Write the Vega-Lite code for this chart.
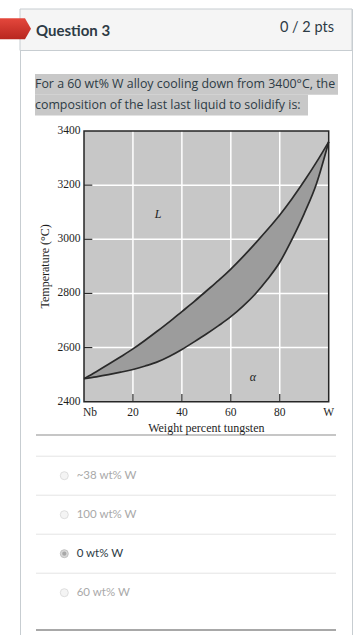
{
  "$schema": "https://vega.github.io/schema/vega-lite/v6.json",
  "width": 332,
  "height": 630,
  "padding": {"left": 20, "top": 9, "right": 12, "bottom": 0},
  "autosize": {"type": "none"},
  "background": "white",
  "config": {"view": {"stroke": "#c7cdd1", "strokeWidth": 1, "fill": "white"}},
  "datasets": {
    "curves": [
      {"w": 0, "liq": 2485, "sol": 2485},
      {"w": 5, "liq": 2511, "sol": 2492},
      {"w": 10, "liq": 2538, "sol": 2500},
      {"w": 15, "liq": 2566, "sol": 2509},
      {"w": 20, "liq": 2595, "sol": 2519},
      {"w": 25, "liq": 2627, "sol": 2532},
      {"w": 30, "liq": 2661, "sol": 2547},
      {"w": 35, "liq": 2696, "sol": 2568},
      {"w": 40, "liq": 2733, "sol": 2593},
      {"w": 45, "liq": 2770, "sol": 2621},
      {"w": 50, "liq": 2809, "sol": 2650},
      {"w": 55, "liq": 2848, "sol": 2681},
      {"w": 60, "liq": 2890, "sol": 2714},
      {"w": 65, "liq": 2936, "sol": 2753},
      {"w": 70, "liq": 2985, "sol": 2798},
      {"w": 75, "liq": 3036, "sol": 2852},
      {"w": 80, "liq": 3090, "sol": 2915},
      {"w": 85, "liq": 3150, "sol": 3000},
      {"w": 90, "liq": 3215, "sol": 3095},
      {"w": 95, "liq": 3285, "sol": 3205},
      {"w": 100, "liq": 3360, "sol": 3360}
    ],
    "xgrid": [{"w": 20}, {"w": 40}, {"w": 60}, {"w": 80}],
    "ygrid": [{"t": 2600}, {"t": 2800}, {"t": 3000}, {"t": 3200}],
    "xlabels": [
      {"w": 0, "label": "Nb"}, {"w": 20, "label": "20"}, {"w": 40, "label": "40"},
      {"w": 60, "label": "60"}, {"w": 80, "label": "80"}, {"w": 100, "label": "W"}
    ],
    "ylabels": [{"t": 2400}, {"t": 2600}, {"t": 2800}, {"t": 3000}, {"t": 3200}, {"t": 3400}],
    "frame": [{"w0": 0, "w1": 100, "t0": 2400, "t1": 3400}]
  },
  "layer": [
    {
      "layer": [
        {
          "data": {"values": [{"part": "header"}]},
          "mark": {"type": "rect", "fill": "#f5f5f5", "stroke": "#c7cdd1", "strokeWidth": 1},
          "encoding": {
            "x": {"datum": 0, "type": "quantitative", "scale": {"domain": [0, 332], "range": [0, 332], "nice": false, "zero": false}, "axis": null},
            "x2": {"datum": 332},
            "y": {"datum": 0, "type": "quantitative", "scale": {"domain": [0, 630], "range": [0, 630], "nice": false, "zero": false}, "axis": null},
            "y2": {"datum": 41.5}
          }
        },
        {
          "data": {"values": [{"part": "flag"}]},
          "mark": {
            "type": "point",
            "shape": "M-1.905,-1L0.476,-1L1.048,0L0.476,1L-1.905,1Z",
            "size": 441,
            "filled": true,
            "opacity": 1,
            "strokeWidth": 0,
            "fill": {"gradient": "linear", "x1": 0, "y1": 0, "x2": 0, "y2": 1, "stops": [{"offset": 0, "color": "#e4473c"}, {"offset": 1, "color": "#b8261f"}]}
          },
          "encoding": {
            "x": {"datum": 0, "type": "quantitative", "axis": null},
            "y": {"datum": 19.8, "type": "quantitative", "axis": null}
          }
        },
        {
          "data": {"values": [{"text": "Question 3"}]},
          "mark": {"type": "text", "font": "Lato", "fontSize": 15, "fontWeight": "bold", "fill": "#2d3b45", "align": "left", "baseline": "alphabetic"},
          "encoding": {
            "text": {"field": "text"},
            "x": {"datum": 16, "type": "quantitative", "axis": null},
            "y": {"datum": 26.5, "type": "quantitative", "axis": null}
          }
        },
        {
          "data": {"values": [{"text": "0 / 2 pts"}]},
          "mark": {"type": "text", "font": "Lato", "fontSize": 14.5, "fill": "#2d3b45", "align": "right", "baseline": "alphabetic"},
          "encoding": {
            "text": {"field": "text"},
            "x": {"datum": 314, "type": "quantitative", "axis": null},
            "y": {"datum": 23, "type": "quantitative", "axis": null}
          }
        },
        {
          "data": {"values": [{"part": "separator"}]},
          "mark": {"type": "rule", "stroke": "#b3b3b3", "strokeWidth": 1.5},
          "encoding": {
            "x": {"datum": 16, "type": "quantitative", "axis": null},
            "x2": {"datum": 316},
            "y": {"datum": 426, "type": "quantitative", "axis": null}
          }
        },
        {
          "data": {"values": [{"part": "footer"}]},
          "mark": {"type": "rule", "stroke": "#a8a8a8", "strokeWidth": 2},
          "encoding": {
            "x": {"datum": 16, "type": "quantitative", "axis": null},
            "x2": {"datum": 316},
            "y": {"datum": 621, "type": "quantitative", "axis": null}
          }
        }
      ]
    },
    {
      "data": {"values": [
        {"line": 1, "text": "For a 60 wt% W alloy cooling down from 3400°C, the"},
        {"line": 2, "text": "composition of the last last liquid to solidify is:"}
      ]},
      "encoding": {
        "y": {"field": "line", "type": "ordinal", "scale": {"type": "band", "domain": [1, 2], "range": [65, 106.5], "paddingInner": 0, "paddingOuter": 0}, "axis": null}
      },
      "layer": [
        {
          "transform": [{"filter": "datum.line == 1"}],
          "mark": {"type": "rect", "fill": "#c8c8c8"},
          "encoding": {
            "x": {"datum": 15, "type": "quantitative", "scale": {"domain": [0, 332], "range": [0, 332], "nice": false, "zero": false}, "axis": null},
            "x2": {"datum": 318}
          }
        },
        {
          "transform": [{"filter": "datum.line == 2"}],
          "mark": {"type": "rect", "fill": "#c8c8c8"},
          "encoding": {
            "x": {"datum": 15, "type": "quantitative", "axis": null},
            "x2": {"datum": 288}
          }
        },
        {
          "mark": {"type": "text", "font": "Open Sans", "fontSize": 12.4, "fill": "#2d3b45", "align": "left", "baseline": "middle"},
          "encoding": {
            "text": {"field": "text"},
            "x": {"datum": 15, "type": "quantitative", "axis": null}
          }
        }
      ]
    },
    {
      "data": {"values": [
        {"option": "~38 wt% W", "selected": "no"},
        {"option": "100 wt% W", "selected": "no"},
        {"option": "0 wt% W", "selected": "yes"},
        {"option": "60 wt% W", "selected": "no"}
      ]},
      "encoding": {
        "y": {"field": "option", "type": "nominal", "sort": null, "scale": {"type": "band", "range": [447.2, 603.2], "paddingInner": 0, "paddingOuter": 0}, "axis": null}
      },
      "layer": [
        {
          "mark": {"type": "rule", "stroke": "#e4e4e4", "strokeWidth": 1},
          "encoding": {
            "y": {"field": "option", "type": "nominal", "sort": null, "bandPosition": 0, "axis": null},
            "x": {"datum": 16, "type": "quantitative", "scale": {"domain": [0, 332], "range": [0, 332], "nice": false, "zero": false}, "axis": null},
            "x2": {"datum": 316}
          }
        },
        {
          "mark": {"type": "point", "filled": true, "size": 64, "strokeWidth": 1, "opacity": 1},
          "encoding": {
            "x": {"datum": 44.3, "type": "quantitative", "axis": null},
            "fill": {"field": "selected", "type": "nominal", "scale": {"domain": ["no", "yes"], "range": ["#f4f4f4", "#d8d8d8"]}, "legend": null},
            "stroke": {"field": "selected", "type": "nominal", "scale": {"domain": ["no", "yes"], "range": ["#dedede", "#c2c2c2"]}, "legend": null}
          }
        },
        {
          "transform": [{"filter": "datum.selected == 'yes'"}],
          "mark": {"type": "point", "filled": true, "size": 18, "fill": "#a8a8a8", "opacity": 1},
          "encoding": {
            "x": {"datum": 44.3, "type": "quantitative", "axis": null}
          }
        },
        {
          "mark": {"type": "text", "font": "Lato", "fontSize": 11.5, "align": "left", "baseline": "middle"},
          "encoding": {
            "text": {"field": "option"},
            "x": {"datum": 56.7, "type": "quantitative", "axis": null},
            "color": {"field": "selected", "type": "nominal", "scale": {"domain": ["no", "yes"], "range": ["#a9a9a9", "#2d3b45"]}, "legend": null}
          }
        }
      ]
    },
    {
      "layer": [
        {
          "data": {"name": "frame"},
          "mark": {"type": "rect", "fill": "#c7c7c7"},
          "encoding": {
            "x": {"field": "w0", "type": "quantitative", "scale": {"domain": [0, 100], "range": [64, 308.7], "nice": false, "zero": false}, "axis": null},
            "x2": {"field": "w1"},
            "y": {"field": "t0", "type": "quantitative", "scale": {"domain": [2400, 3400], "range": [392.7, 122], "nice": false, "zero": false}, "axis": null},
            "y2": {"field": "t1"}
          }
        },
        {
          "data": {"name": "xgrid"},
          "mark": {"type": "rule", "stroke": "white", "strokeWidth": 1.5},
          "encoding": {
            "x": {"field": "w", "type": "quantitative", "axis": null},
            "y": {"datum": 2400, "type": "quantitative", "axis": null},
            "y2": {"datum": 3400}
          }
        },
        {
          "data": {"name": "ygrid"},
          "mark": {"type": "rule", "stroke": "white", "strokeWidth": 1.5},
          "encoding": {
            "y": {"field": "t", "type": "quantitative", "axis": null},
            "x": {"datum": 0, "type": "quantitative", "axis": null},
            "x2": {"datum": 100}
          }
        },
        {
          "data": {"name": "curves"},
          "mark": {"type": "area", "fill": "#9c9c9c", "interpolate": "monotone", "opacity": 1},
          "encoding": {
            "x": {"field": "w", "type": "quantitative", "axis": null},
            "y": {"field": "liq", "type": "quantitative", "axis": null},
            "y2": {"field": "sol"}
          }
        },
        {
          "data": {"name": "curves"},
          "mark": {"type": "line", "stroke": "#2a2a2a", "strokeWidth": 1.7, "interpolate": "monotone"},
          "encoding": {
            "x": {"field": "w", "type": "quantitative", "axis": null},
            "y": {"field": "liq", "type": "quantitative", "axis": null}
          }
        },
        {
          "data": {"name": "curves"},
          "mark": {"type": "line", "stroke": "#2a2a2a", "strokeWidth": 1.7, "interpolate": "monotone"},
          "encoding": {
            "x": {"field": "w", "type": "quantitative", "axis": null},
            "y": {"field": "sol", "type": "quantitative", "axis": null}
          }
        },
        {
          "data": {"name": "xgrid"},
          "mark": {"type": "rule", "stroke": "#2a2a2a", "strokeWidth": 1.2},
          "encoding": {
            "x": {"field": "w", "type": "quantitative", "axis": null},
            "y": {"datum": 2400, "type": "quantitative", "axis": null},
            "y2": {"datum": 2428}
          }
        },
        {
          "data": {"name": "ygrid"},
          "mark": {"type": "rule", "stroke": "#2a2a2a", "strokeWidth": 1.2},
          "encoding": {
            "y": {"field": "t", "type": "quantitative", "axis": null},
            "x": {"datum": 0, "type": "quantitative", "axis": null},
            "x2": {"datum": 3.4}
          }
        },
        {
          "data": {"name": "frame"},
          "mark": {"type": "rect", "fillOpacity": 0, "stroke": "#262626", "strokeWidth": 1.5},
          "encoding": {
            "x": {"field": "w0", "type": "quantitative", "axis": null},
            "x2": {"field": "w1"},
            "y": {"field": "t0", "type": "quantitative", "axis": null},
            "y2": {"field": "t1"}
          }
        },
        {
          "data": {"values": [{"w": 30.3, "t": 3092, "label": "L"}, {"w": 69, "t": 2492, "label": "α"}]},
          "mark": {"type": "text", "font": "Liberation Serif", "fontStyle": "italic", "fontSize": 12, "fill": "#222222"},
          "encoding": {
            "x": {"field": "w", "type": "quantitative", "axis": null},
            "y": {"field": "t", "type": "quantitative", "axis": null},
            "text": {"field": "label"}
          }
        },
        {
          "data": {"name": "xlabels"},
          "transform": [{"filter": "datum.w > 0"}],
          "mark": {"type": "text", "font": "Liberation Serif", "fontSize": 11.5, "fill": "#1e1e1e", "align": "center", "baseline": "top", "dy": 5},
          "encoding": {
            "x": {"field": "w", "type": "quantitative", "axis": null},
            "y": {"datum": 2400, "type": "quantitative", "axis": null},
            "text": {"field": "label"}
          }
        },
        {
          "data": {"name": "xlabels"},
          "transform": [{"filter": "datum.w == 0"}],
          "mark": {"type": "text", "font": "Liberation Serif", "fontSize": 11.5, "fill": "#1e1e1e", "align": "left", "baseline": "top", "dy": 5, "dx": -1},
          "encoding": {
            "x": {"field": "w", "type": "quantitative", "axis": null},
            "y": {"datum": 2400, "type": "quantitative", "axis": null},
            "text": {"field": "label"}
          }
        },
        {
          "data": {"name": "ylabels"},
          "mark": {"type": "text", "font": "Liberation Serif", "fontSize": 11.5, "fill": "#1e1e1e", "align": "right", "baseline": "middle", "dx": -3.5},
          "encoding": {
            "x": {"datum": 0, "type": "quantitative", "axis": null},
            "y": {"field": "t", "type": "quantitative", "axis": null},
            "text": {"field": "t", "type": "quantitative", "format": "d"}
          }
        },
        {
          "data": {"values": [{"title": "Weight percent tungsten"}]},
          "mark": {"type": "text", "font": "Liberation Serif", "fontSize": 12, "fill": "#1e1e1e", "align": "center", "baseline": "top", "dy": 21.5},
          "encoding": {
            "x": {"datum": 50, "type": "quantitative", "axis": null},
            "y": {"datum": 2400, "type": "quantitative", "axis": null},
            "text": {"field": "title"}
          }
        },
        {
          "data": {"values": [{"title": "Temperature (°C)"}]},
          "mark": {"type": "text", "font": "Liberation Serif", "fontSize": 12, "fill": "#1e1e1e", "align": "center", "baseline": "middle", "angle": 270, "dy": -39},
          "encoding": {
            "x": {"datum": 0, "type": "quantitative", "axis": null},
            "y": {"datum": 2900, "type": "quantitative", "axis": null},
            "text": {"field": "title"}
          }
        }
      ]
    }
  ],
  "resolve": {
    "scale": {"x": "independent", "y": "independent", "color": "independent", "fill": "independent", "stroke": "independent"},
    "axis": {"x": "independent", "y": "independent"}
  }
}
